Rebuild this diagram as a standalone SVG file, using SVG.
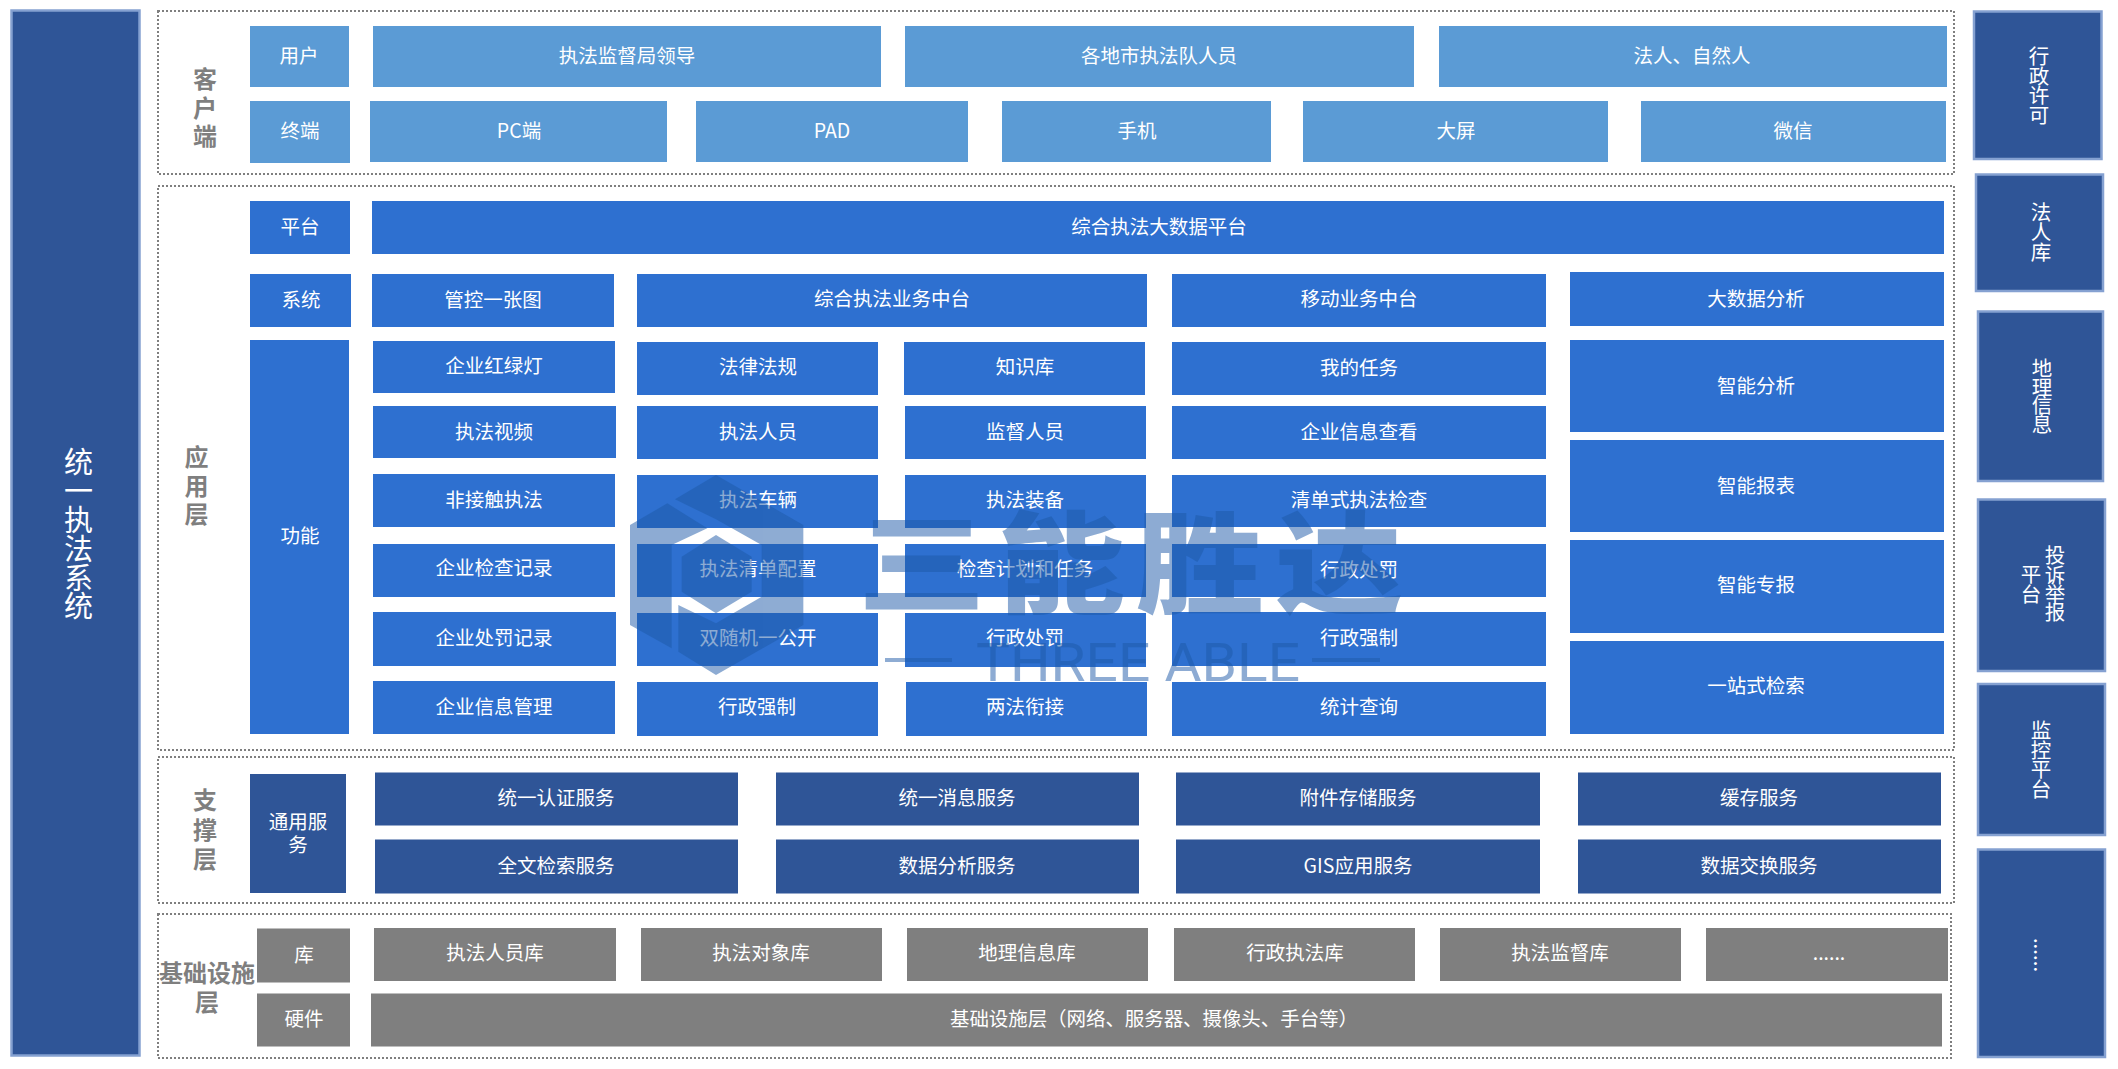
<svg xmlns="http://www.w3.org/2000/svg" width="2118" height="1069" viewBox="0 0 2118 1069">
<style>
text{font-family:"Noto Sans CJK SC","Noto Sans",sans-serif}
.l{fill:#5b9bd5}.m{fill:#2e70d0}.d{fill:#2f5597}.g{fill:#7f7f7f}
.b{fill:#2f5597;stroke:#85a1d1;stroke-width:2.5}
.f{fill:none;stroke:#7f7f7f;stroke-width:2;stroke-dasharray:2 2}
.t{fill:#fff;font-size:19.5px;text-anchor:middle}
.v{fill:#fff;font-size:20.5px;text-anchor:middle}
.h{fill:#7f7f7f;font-size:24px;font-weight:700;text-anchor:middle}
.w{fill:#1d5aa8;opacity:.5}
</style>
<rect width="2118" height="1069" fill="#fff"/>
<g id="frames">
<rect class="f" x="158" y="11" width="1796" height="163"/>
<rect class="f" x="158" y="186" width="1796" height="564"/>
<rect class="f" x="158" y="757" width="1796" height="146"/>
<rect class="f" x="158" y="914" width="1793" height="144"/>
</g>
<g id="connectors"/>
<g id="system"><rect class="b" x="11.5" y="10.5" width="128" height="1045"/>
<text fill="#fff" font-size="29" text-anchor="middle" y="473"><tspan x="78.5">统</tspan><tspan x="78.5" dy="29">一</tspan><tspan x="78.5" dy="29">执</tspan><tspan x="78.5" dy="29">法</tspan><tspan x="78.5" dy="28.5">系</tspan><tspan x="78.5" dy="28.5">统</tspan></text></g>
<g id="label-client"><text class="h" y="88"><tspan x="205">客</tspan><tspan x="205" dy="28.5">户</tspan><tspan x="205" dy="28.5">端</tspan></text></g>
<g id="label-app"><text class="h" y="466"><tspan x="196.5">应</tspan><tspan x="196.5" dy="28.5">用</tspan><tspan x="196.5" dy="28.5">层</tspan></text></g>
<g id="label-support"><text class="h" y="809"><tspan x="205">支</tspan><tspan x="205" dy="29.5">撑</tspan><tspan x="205" dy="29.5">层</tspan></text></g>
<g id="label-infra"><text class="h" y="982"><tspan x="207">基础设施</tspan><tspan x="207" dy="29">层</tspan></text></g>

<g id="n-yonghu"><rect class="l" x="250" y="26" width="99" height="61"/><text class="t" x="299" y="63">用户</text></g>
<g id="n-lingdao"><rect class="l" x="373" y="26" width="508" height="61"/><text class="t" x="627" y="63">执法监督局领导</text></g>
<g id="n-duiyuan"><rect class="l" x="905" y="26" width="509" height="61"/><text class="t" x="1159" y="63">各地市执法队人员</text></g>
<g id="n-faren"><rect class="l" x="1439" y="26" width="508" height="61"/><text class="t" x="1692" y="63">法人、自然人</text></g>
<g id="n-zhongduan"><rect class="l" x="250" y="101" width="100" height="62"/><text class="t" x="300" y="138">终端</text></g>
<g id="n-pc"><rect class="l" x="370" y="101" width="297" height="61"/><text class="t" x="519" y="138">PC端</text></g>
<g id="n-pad"><rect class="l" x="696" y="101" width="272" height="61"/><text class="t" x="832" y="138">PAD</text></g>
<g id="n-shouji"><rect class="l" x="1002" y="101" width="269" height="61"/><text class="t" x="1137" y="138">手机</text></g>
<g id="n-daping"><rect class="l" x="1303" y="101" width="305" height="61"/><text class="t" x="1456" y="138">大屏</text></g>
<g id="n-weixin"><rect class="l" x="1641" y="101" width="305" height="61"/><text class="t" x="1793" y="138">微信</text></g>

<g id="n-pingtai"><rect class="m" x="250" y="201" width="100" height="53"/><text class="t" x="300" y="234">平台</text></g>
<g id="n-dashuju"><rect class="m" x="372" y="201" width="1572" height="53"/><text class="t" x="1159" y="234">综合执法大数据平台</text></g>
<g id="n-xitong"><rect class="m" x="250" y="274" width="101" height="53"/><text class="t" x="301" y="307">系统</text></g>
<g id="n-guankong"><rect class="m" x="372" y="274" width="242" height="53"/><text class="t" x="493" y="307">管控一张图</text></g>
<g id="n-yewu"><rect class="m" x="637" y="274" width="510" height="53"/><text class="t" x="892" y="306">综合执法业务中台</text></g>
<g id="n-yidong"><rect class="m" x="1172" y="274" width="374" height="53"/><text class="t" x="1359" y="306">移动业务中台</text></g>
<g id="n-fenxi"><rect class="m" x="1570" y="272" width="374" height="54"/><text class="t" x="1756" y="306">大数据分析</text></g>
<g id="n-gongneng"><rect class="m" x="250" y="340" width="99" height="394"/><text class="t" x="300" y="543">功能</text></g>

<g id="n-a1"><rect class="m" x="373" y="341" width="242" height="52"/><text class="t" x="494" y="373">企业红绿灯</text></g>
<g id="n-a2"><rect class="m" x="373" y="406" width="243" height="52"/><text class="t" x="494" y="439">执法视频</text></g>
<g id="n-a3"><rect class="m" x="373" y="474" width="242" height="53"/><text class="t" x="494" y="507">非接触执法</text></g>
<g id="n-a4"><rect class="m" x="373" y="544" width="242" height="53"/><text class="t" x="494" y="575">企业检查记录</text></g>
<g id="n-a5"><rect class="m" x="373" y="612" width="243" height="54"/><text class="t" x="494" y="645">企业处罚记录</text></g>
<g id="n-a6"><rect class="m" x="373" y="681" width="242" height="53"/><text class="t" x="494" y="714">企业信息管理</text></g>

<g id="n-b1"><rect class="m" x="637" y="342" width="241" height="53"/><text class="t" x="758" y="374">法律法规</text></g>
<g id="n-b2"><rect class="m" x="637" y="406" width="241" height="53"/><text class="t" x="758" y="439">执法人员</text></g>
<g id="n-b3"><rect class="m" x="637" y="475" width="241" height="53"/><text class="t" x="758" y="507">执法车辆</text></g>
<g id="n-b4"><rect class="m" x="637" y="544" width="241" height="53"/><text class="t" x="758" y="576">执法清单配置</text></g>
<g id="n-b5"><rect class="m" x="637" y="613" width="241" height="53"/><text class="t" x="758" y="645">双随机一公开</text></g>
<g id="n-b6"><rect class="m" x="637" y="682" width="241" height="54"/><text class="t" x="757" y="714">行政强制</text></g>

<g id="n-c1"><rect class="m" x="904" y="342" width="241" height="53"/><text class="t" x="1025" y="374">知识库</text></g>
<g id="n-c2"><rect class="m" x="905" y="406" width="241" height="53"/><text class="t" x="1025" y="439">监督人员</text></g>
<g id="n-c3"><rect class="m" x="905" y="475" width="241" height="53"/><text class="t" x="1025" y="507">执法装备</text></g>
<g id="n-c4"><rect class="m" x="905" y="544" width="241" height="53"/><text class="t" x="1025" y="576">检查计划和任务</text></g>
<g id="n-c5"><rect class="m" x="905" y="613" width="241" height="54"/><text class="t" x="1025" y="645">行政处罚</text></g>
<g id="n-c6"><rect class="m" x="906" y="682" width="241" height="54"/><text class="t" x="1025" y="714">两法衔接</text></g>

<g id="n-d1"><rect class="m" x="1172" y="342" width="374" height="53"/><text class="t" x="1359" y="375">我的任务</text></g>
<g id="n-d2"><rect class="m" x="1172" y="406" width="374" height="53"/><text class="t" x="1359" y="439">企业信息查看</text></g>
<g id="n-d3"><rect class="m" x="1172" y="475" width="374" height="52"/><text class="t" x="1359" y="507">清单式执法检查</text></g>
<g id="n-d4"><rect class="m" x="1172" y="544" width="374" height="53"/><text class="t" x="1359" y="577">行政处罚</text></g>
<g id="n-d5"><rect class="m" x="1172" y="612" width="374" height="54"/><text class="t" x="1359" y="645">行政强制</text></g>
<g id="n-d6"><rect class="m" x="1172" y="682" width="374" height="54"/><text class="t" x="1359" y="714">统计查询</text></g>

<g id="n-e1"><rect class="m" x="1570" y="340" width="374" height="92"/><text class="t" x="1756" y="393">智能分析</text></g>
<g id="n-e2"><rect class="m" x="1570" y="440" width="374" height="92"/><text class="t" x="1756" y="493">智能报表</text></g>
<g id="n-e3"><rect class="m" x="1570" y="540" width="374" height="93"/><text class="t" x="1756" y="592">智能专报</text></g>
<g id="n-e4"><rect class="m" x="1570" y="641" width="374" height="93"/><text class="t" x="1756" y="693">一站式检索</text></g>

<g id="n-tongyong"><rect class="d" x="250" y="774" width="96" height="119"/><text class="t"><tspan x="298" y="829">通用服</tspan><tspan x="298" y="852">务</tspan></text></g>
<g id="n-s1"><rect class="d" x="375" y="772.5" width="363" height="53"/><text class="t" x="556" y="805">统一认证服务</text></g>
<g id="n-s2"><rect class="d" x="776" y="772.5" width="363" height="53"/><text class="t" x="957" y="805">统一消息服务</text></g>
<g id="n-s3"><rect class="d" x="1176" y="772.5" width="364" height="53"/><text class="t" x="1358" y="805">附件存储服务</text></g>
<g id="n-s4"><rect class="d" x="1578" y="772.5" width="363" height="53"/><text class="t" x="1759" y="805">缓存服务</text></g>
<g id="n-s5"><rect class="d" x="375" y="839.5" width="363" height="54"/><text class="t" x="556" y="873">全文检索服务</text></g>
<g id="n-s6"><rect class="d" x="776" y="839.5" width="363" height="54"/><text class="t" x="957" y="873">数据分析服务</text></g>
<g id="n-s7"><rect class="d" x="1176" y="839.5" width="364" height="54"/><text class="t" x="1358" y="873">GIS应用服务</text></g>
<g id="n-s8"><rect class="d" x="1578" y="839.5" width="363" height="54"/><text class="t" x="1759" y="873">数据交换服务</text></g>

<g id="n-ku"><rect class="g" x="257" y="928.5" width="93" height="54"/><text class="t" x="304" y="962">库</text></g>
<g id="n-i1"><rect class="g" x="374" y="928" width="242" height="53"/><text class="t" x="495" y="960">执法人员库</text></g>
<g id="n-i2"><rect class="g" x="641" y="928" width="241" height="53"/><text class="t" x="761" y="960">执法对象库</text></g>
<g id="n-i3"><rect class="g" x="907" y="928" width="241" height="53"/><text class="t" x="1027" y="960">地理信息库</text></g>
<g id="n-i4"><rect class="g" x="1174" y="928" width="241" height="53"/><text class="t" x="1295" y="960">行政执法库</text></g>
<g id="n-i5"><rect class="g" x="1440" y="928" width="241" height="53"/><text class="t" x="1560" y="960">执法监督库</text></g>
<g id="n-i6"><rect class="g" x="1706" y="928" width="242" height="53"/><text class="t" x="1829" y="960">......</text></g>
<g id="n-yingjian"><rect class="g" x="257" y="993.5" width="93" height="53"/><text class="t" x="304" y="1026">硬件</text></g>
<g id="n-jichu"><rect class="g" x="371" y="993.5" width="1571" height="53"/><text class="t" x="1154" y="1026" textLength="408" lengthAdjust="spacing">基础设施层（网络、服务器、摄像头、手台等）</text></g>

<g id="r-xuke"><rect class="b" x="1974" y="11.5" width="127.5" height="147.5"/><text class="v" y="64"><tspan x="2039">行</tspan><tspan x="2039" dy="19.5">政</tspan><tspan x="2039" dy="19.5">许</tspan><tspan x="2039" dy="19.5">可</tspan></text></g>
<g id="r-faren"><rect class="b" x="1976" y="174.5" width="127" height="116.5"/><text class="v" y="220"><tspan x="2041">法</tspan><tspan x="2041" dy="20">人</tspan><tspan x="2041" dy="20">库</tspan></text></g>
<g id="r-dili"><rect class="b" x="1978" y="311.5" width="125" height="169.5"/><text class="v" y="376"><tspan x="2042">地</tspan><tspan x="2042" dy="18.5">理</tspan><tspan x="2042" dy="18.5">信</tspan><tspan x="2042" dy="18.5">息</tspan></text></g>
<g id="r-tousu"><rect class="b" x="1978" y="499.5" width="127" height="171.5"/><text class="v"><tspan x="2055" y="563">投</tspan><tspan x="2055" y="582.5">诉</tspan><tspan x="2055" y="601.5">举</tspan><tspan x="2055" y="620">报</tspan><tspan x="2031" y="582">平</tspan><tspan x="2031" y="602">台</tspan></text></g>
<g id="r-jiankong"><rect class="b" x="1978" y="684" width="127" height="151"/><text class="v" y="738"><tspan x="2041">监</tspan><tspan x="2041" dy="19.5">控</tspan><tspan x="2041" dy="19.5">平</tspan><tspan x="2041" dy="19.5">台</tspan></text></g>
<g id="r-more"><rect class="b" x="1978" y="849.5" width="127" height="207.5"/><text class="v" transform="translate(2034 955) rotate(90)">......</text></g>

<g id="watermark">
<g class="w" transform="translate(610 460) scale(.33333)">
<polygon points="60,195 172,130 292,205 185,255 185,565 60,495"/>
<polygon points="195,118 318,45 580,195 580,495 318,645 205,575 205,435 318,490 455,410 455,255 318,178"/>
<polygon points="215,290 318,225 425,290 425,395 318,460 215,395"/>
</g>
<text class="w" transform="translate(858 605) scale(1.15 1)" x="0 121 242 363" y="0" font-size="111" font-weight="900">三能胜达</text>
<text class="w" x="976" y="681" font-size="54" font-weight="400" style="font-family:Roboto,sans-serif" textLength="324" lengthAdjust="spacingAndGlyphs">THREE ABLE</text>
<rect class="w" x="885" y="658" width="67" height="4"/>
<rect class="w" x="1312" y="658" width="68" height="4"/>
</g>
</svg>
